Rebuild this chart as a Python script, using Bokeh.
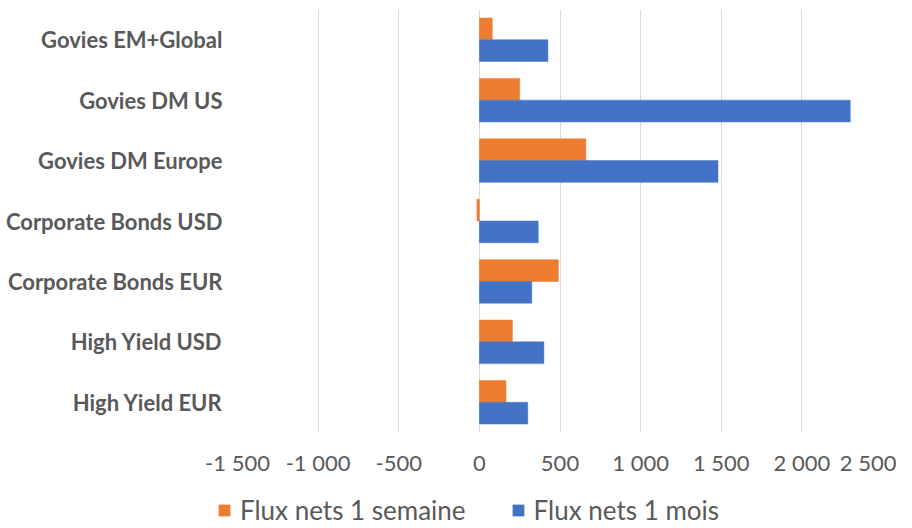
from bokeh.plotting import figure
from bokeh.layouts import column
from bokeh.models import FactorRange, Range1d, FixedTicker, Legend, LegendItem, ColumnDataSource
from bokeh.transform import dodge
from bokeh.embed import file_html
from bokeh.resources import INLINE

categories = ["Govies EM+Global", "Govies DM US", "Govies DM Europe",
              "Corporate Bonds USD", "Corporate Bonds EUR", "High Yield USD", "High Yield EUR"]
flux_1_semaine = [80, 250, 660, -15, 490, 205, 165]
flux_1_mois = [425, 2300, 1480, 365, 325, 400, 300]
series_names = ["Flux nets 1 semaine", "Flux nets 1 mois"]
tick_values = [-1500, -1000, -500, 0, 500, 1000, 1500, 2000, 2500]
tick_labels = ["-1 500", "-1 000", "-500", "0", "500", "1 000", "1 500", "2 000", "2 500"]

ORANGE = "#ED7D31"
BLUE = "#4472C4"
GRAY = "#595959"

source = ColumnDataSource(dict(cat=categories, week=flux_1_semaine, month=flux_1_mois))

p = figure(frame_width=645, frame_height=423, output_backend="svg", toolbar_location=None,
           y_range=FactorRange(factors=list(reversed(categories))),
           x_range=Range1d(-1500, 2500),
           min_border_left=237, min_border_right=14, min_border_top=9, min_border_bottom=0)
p.outline_line_color = None
p.frame_align = False

r1 = p.hbar(y=dodge("cat", 0.18, range=p.y_range), left=0, right="week", height=0.36,
            source=source, fill_color=ORANGE, line_color=ORANGE, line_width=0.5)
r2 = p.hbar(y=dodge("cat", -0.18, range=p.y_range), left=0, right="month", height=0.36,
            source=source, fill_color=BLUE, line_color=BLUE, line_width=0.5)

p.ygrid.grid_line_color = None
p.xgrid.grid_line_color = "#D9D9D9"
p.xgrid.grid_line_width = 1
p.xaxis.ticker = FixedTicker(ticks=tick_values)
p.xaxis.major_label_overrides = {v: l for v, l in zip(tick_values, tick_labels)}

for ax in (p.xaxis[0], p.yaxis[0]):
    ax.axis_line_color = None
    ax.major_tick_line_color = None
    ax.minor_tick_line_color = None
    ax.major_tick_out = 0
    ax.major_tick_in = 0
    ax.major_label_text_color = GRAY

p.xaxis.major_label_text_font = "Lato"
p.xaxis.major_label_text_font_size = "22px"
p.xaxis.major_label_standoff = 16

p.yaxis.major_label_text_font = "Lato"
p.yaxis.major_label_text_font_style = "bold"
p.yaxis.major_label_text_font_size = "22px"
p.yaxis.major_label_standoff = 15

# legend strip below the chart; its swatches take their style from these hidden renderers
leg = figure(width=896, height=52, output_backend="svg", toolbar_location=None,
             x_axis_type=None, y_axis_type=None,
             x_range=Range1d(0, 1), y_range=Range1d(0, 1),
             min_border_left=0, min_border_right=0, min_border_top=0, min_border_bottom=0)
leg.outline_line_color = None
leg.grid.visible = False
leg.frame_align = False
l1 = leg.hbar(y="week", left="week", right="week", height=0.01, source=source,
              fill_color=ORANGE, line_color=ORANGE, line_width=0.5, visible=False)
l2 = leg.hbar(y="month", left="month", right="month", height=0.01, source=source,
              fill_color=BLUE, line_color=BLUE, line_width=0.5, visible=False)

legend = Legend(items=[LegendItem(label=series_names[0], renderers=[l1]),
                       LegendItem(label=series_names[1], renderers=[l2])],
                orientation="horizontal", location=(217, 4),
                label_text_font="Lato", label_text_font_size="26px", label_text_color=GRAY,
                glyph_width=14, glyph_height=14, label_standoff=9, spacing=45,
                padding=0, margin=0, inactive_fill_alpha=0,
                border_line_color=None, background_fill_alpha=0)
leg.add_layout(legend, "center")

open("out.html", "w").write(file_html(column(p, leg, spacing=0), INLINE))
